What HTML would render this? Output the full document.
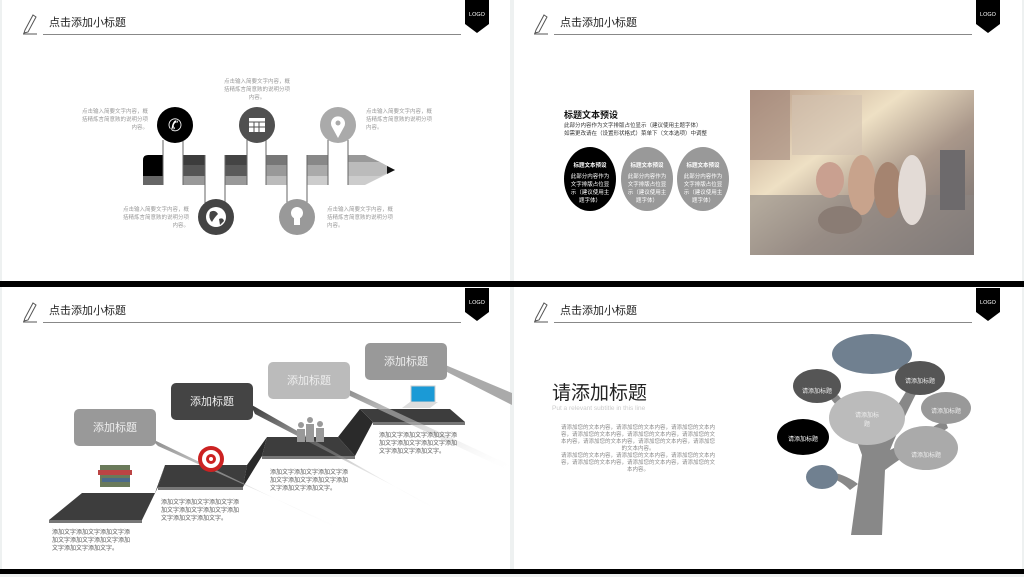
<!DOCTYPE html>
<html><head><meta charset="utf-8"><style>
html,body{margin:0;padding:0;background:#eef1f1;}
svg{display:block;font-family:"Liberation Sans","Noto Sans CJK SC",sans-serif;}
</style></head><body>
<svg width="1024" height="577" viewBox="0 0 1024 577" xmlns="http://www.w3.org/2000/svg">
<defs>
<linearGradient id="photo" x1="0" y1="0" x2="1" y2="1">
<stop offset="0" stop-color="#b79a86"/><stop offset="0.35" stop-color="#eee0c4"/><stop offset="0.6" stop-color="#a9978a"/><stop offset="1" stop-color="#6e6a6c"/></linearGradient>
<linearGradient id="beam" x1="0" y1="0" x2="1" y2="1"><stop offset="0" stop-color="#888"/><stop offset="1" stop-color="#fff" stop-opacity="0"/></linearGradient>
<linearGradient id="beam2" x1="0" y1="0" x2="1" y2="1"><stop offset="0" stop-color="#333"/><stop offset="1" stop-color="#fff" stop-opacity="0"/></linearGradient>
<g id="hdr">
<path d="M25 30 L33 15 L36 17 L28 32 L24 33 Z" fill="none" stroke="#555" stroke-width="1"/>
<line x1="23" y1="34" x2="37" y2="34" stroke="#555" stroke-width="1"/>
<text x="49" y="26" font-size="11" fill="#222">点击添加小标题</text>
<line x1="43" y1="34.5" x2="461" y2="34.5" stroke="#888" stroke-width="1"/>
<path d="M465 0 H489 V24 L477 33 L465 24 Z" fill="#000"/>
<text x="477" y="16" font-size="5.5" fill="#fff" text-anchor="middle">LOGO</text>
</g>
</defs>
<rect x="2" y="0" width="508" height="281" fill="#fff"/>
<rect x="514" y="0" width="508" height="281" fill="#fff"/>
<rect x="2" y="287" width="508" height="282" fill="#fff"/>
<rect x="514" y="287" width="508" height="282" fill="#fff"/>
<rect x="0" y="281" width="1024" height="6" fill="#000"/>
<rect x="0" y="569" width="1024" height="5" fill="#000"/>
<use href="#hdr"/>
<use href="#hdr" x="511"/>
<use href="#hdr" y="288"/>
<use href="#hdr" x="511" y="288"/>

<!-- Slide 1 pencil -->
<g>
<path d="M148 155 H163 V185 H148 Q143 185 143 180 V160 Q143 155 148 155Z" fill="#000"/>
<rect x="143" y="176" width="20" height="9" fill="#666"/>
<rect x="183" y="155" width="22" height="10" fill="#3c3c3c"/><rect x="183" y="165" width="22" height="11" fill="#555"/><rect x="183" y="176" width="22" height="9" fill="#999"/>
<rect x="225" y="155" width="22" height="10" fill="#444"/><rect x="225" y="165" width="22" height="11" fill="#5a5a5a"/><rect x="225" y="176" width="22" height="9" fill="#999"/>
<rect x="266" y="155" width="21" height="10" fill="#777"/><rect x="266" y="165" width="21" height="11" fill="#999"/><rect x="266" y="176" width="21" height="9" fill="#bbb"/>
<rect x="307" y="155" width="21" height="10" fill="#888"/><rect x="307" y="165" width="21" height="11" fill="#aaa"/><rect x="307" y="176" width="21" height="9" fill="#ccc"/>
<path d="M348 155 H365 L395 170 L365 185 H348Z" fill="#ccc"/>
<path d="M348 155 H365 L380 162 H348Z" fill="#999"/>
<path d="M348 162 H380 L395 170 L380 176 H348Z" fill="#bbb"/>
<path d="M387 166 L395 170 L387 174Z" fill="#111"/>
<g stroke="#666" stroke-width="1">
<line x1="163" y1="140" x2="163" y2="185"/><line x1="183" y1="140" x2="183" y2="185"/>
<line x1="247" y1="140" x2="247" y2="185"/><line x1="266" y1="140" x2="266" y2="185"/>
<line x1="328" y1="140" x2="328" y2="185"/><line x1="348" y1="140" x2="348" y2="185"/>
<line x1="205" y1="155" x2="205" y2="203"/><line x1="225" y1="155" x2="225" y2="203"/>
<line x1="287" y1="155" x2="287" y2="203"/><line x1="307" y1="155" x2="307" y2="203"/>
</g>
<circle cx="175" cy="125" r="18" fill="#000"/>
<text x="175" y="131" font-size="17" fill="#fff" text-anchor="middle">✆</text>
<circle cx="257" cy="125" r="18" fill="#505050"/>
<rect x="249" y="118" width="16" height="14" fill="#fff"/><g stroke="#505050" stroke-width="1"><line x1="249" y1="122" x2="265" y2="122"/><line x1="254" y1="122" x2="254" y2="132"/><line x1="259" y1="122" x2="259" y2="132"/><line x1="249" y1="127" x2="265" y2="127"/></g>
<circle cx="338" cy="125" r="18" fill="#aaa"/>
<path d="M338 138 L332 127 A7 7 0 1 1 344 127Z" fill="#fff"/><circle cx="338" cy="123" r="2.5" fill="#aaa"/>
<circle cx="216" cy="217" r="18" fill="#444"/>
<circle cx="216" cy="217" r="10" fill="#fff"/><path d="M210 212 Q215 209 218 214 Q214 218 212 222 Q208 218 210 212Z M219 219 Q223 217 224 221 L220 225Z" fill="#444"/>
<circle cx="297" cy="217" r="18" fill="#999"/>
<circle cx="297" cy="213" r="6" fill="#fff"/><rect x="294" y="218" width="6" height="7" fill="#fff"/>
</g>
<g font-size="5.5" fill="#999">
<text x="148" y="113" text-anchor="end">点击输入简要文字内容，概</text><text x="148" y="121" text-anchor="end">括精炼言简意赅的说明分项</text><text x="148" y="129" text-anchor="end">内容。</text>
<text x="257" y="83" text-anchor="middle">点击输入简要文字内容，概</text><text x="257" y="91" text-anchor="middle">括精炼言简意赅的说明分项</text><text x="257" y="99" text-anchor="middle">内容。</text>
<text x="366" y="113">点击输入简要文字内容，概</text><text x="366" y="121">括精炼言简意赅的说明分项</text><text x="366" y="129">内容。</text>
<text x="189" y="211" text-anchor="end">点击输入简要文字内容，概</text><text x="189" y="219" text-anchor="end">括精炼言简意赅的说明分项</text><text x="189" y="227" text-anchor="end">内容。</text>
<text x="327" y="211">点击输入简要文字内容，概</text><text x="327" y="219">括精炼言简意赅的说明分项</text><text x="327" y="227">内容。</text>
</g>

<!-- Slide 2 -->
<text x="564" y="118" font-size="9" font-weight="bold" fill="#111">标题文本预设</text>
<text x="564" y="127" font-size="5.5" fill="#333">此部分内容作为文字排版占位显示（建议使用主题字体）</text>
<text x="564" y="135" font-size="5.5" fill="#333">如需更改请在（设置形状格式）菜单下（文本选项）中调整</text>
<ellipse cx="590" cy="179" rx="26" ry="32" fill="#000"/>
<ellipse cx="647" cy="179" rx="26" ry="32" fill="#999"/>
<ellipse cx="703" cy="179" rx="26" ry="32" fill="#999"/>
<g font-size="5.5" fill="#fff" text-anchor="middle">
<text x="590" y="167" font-weight="bold">标题文本预设</text><text x="590" y="178">此部分内容作为</text><text x="590" y="186">文字排版占位显</text><text x="590" y="194">示（建议使用主</text><text x="590" y="202">题字体）</text>
<text x="647" y="167" font-weight="bold">标题文本预设</text><text x="647" y="178">此部分内容作为</text><text x="647" y="186">文字排版占位显</text><text x="647" y="194">示（建议使用主</text><text x="647" y="202">题字体）</text>
<text x="703" y="167" font-weight="bold">标题文本预设</text><text x="703" y="178">此部分内容作为</text><text x="703" y="186">文字排版占位显</text><text x="703" y="194">示（建议使用主</text><text x="703" y="202">题字体）</text>
</g>
<rect x="750" y="90" width="224" height="165" fill="url(#photo)"/>
<rect x="750" y="90" width="40" height="70" fill="#a0867a" opacity="0.6"/>
<rect x="792" y="95" width="70" height="60" fill="#d2c2b0" opacity="0.6"/>
<rect x="750" y="195" width="224" height="60" fill="#8c8582" opacity="0.6"/>
<rect x="940" y="150" width="25" height="60" fill="#6d6a6c"/>
<ellipse cx="830" cy="180" rx="14" ry="18" fill="#c9a090"/>
<ellipse cx="862" cy="185" rx="14" ry="30" fill="#c8a38c"/>
<ellipse cx="888" cy="190" rx="14" ry="28" fill="#a58470"/>
<ellipse cx="912" cy="190" rx="14" ry="35" fill="#e3dbd6"/>
<ellipse cx="840" cy="220" rx="22" ry="14" fill="#8a7c74"/>

<!-- Slide 3 platforms -->
<polygon points="49,520 82,493 155,493 142,520" fill="#3d3d3d"/>
<polygon points="49,520 142,520 142,523 49,523" fill="#777"/>
<polygon points="142,520 155,493 165,465 158,487" fill="#2a2a2a"/>
<polygon points="158,487 165,465 247,465 243,487" fill="#3d3d3d"/>
<polygon points="158,487 243,487 243,490 158,490" fill="#777"/>
<polygon points="243,487 247,465 267,437 262,456" fill="#2a2a2a"/>
<polygon points="262,456 267,437 338,437 355,456" fill="#3d3d3d"/>
<polygon points="262,456 355,456 355,459 262,459" fill="#777"/>
<polygon points="338,437 355,456 373,422 360,409" fill="#2a2a2a"/>
<polygon points="360,409 450,409 465,422 373,422" fill="#3d3d3d"/>
<polygon points="373,422 465,422 465,425 373,425" fill="#777"/>
<!-- beams -->
<polygon points="150,438 158,446 345,530 340,530" fill="url(#beam)"/>
<polygon points="250,404 255,414 440,510 436,510" fill="url(#beam2)"/>
<polygon points="345,388 350,396 512,472 512,466" fill="url(#beam)"/>
<polygon points="443,364 447,372 512,405 512,393" fill="#aaa"/>
<rect x="74" y="409" width="82" height="37" rx="5" fill="#999"/>
<rect x="171" y="383" width="82" height="37" rx="5" fill="#444"/>
<rect x="268" y="362" width="82" height="37" rx="5" fill="#bbb"/>
<rect x="365" y="343" width="82" height="37" rx="5" fill="#999"/>
<g font-size="11" fill="#eee" text-anchor="middle">
<text x="115" y="431">添加标题</text><text x="212" y="405">添加标题</text><text x="309" y="384">添加标题</text><text x="406" y="365">添加标题</text></g>
<rect x="100" y="465" width="30" height="22" fill="#6a7a5a"/><rect x="98" y="470" width="34" height="5" fill="#b44"/><rect x="102" y="478" width="28" height="4" fill="#4a6a8a"/>
<circle cx="211" cy="459" r="13" fill="#c22"/><circle cx="211" cy="459" r="9" fill="#fff"/><circle cx="211" cy="459" r="5" fill="#c22"/><circle cx="211" cy="459" r="2" fill="#fff"/>
<g fill="#999"><circle cx="310" cy="420" r="3"/><rect x="306" y="424" width="8" height="18"/><circle cx="301" cy="425" r="3"/><rect x="297" y="429" width="8" height="13"/><circle cx="320" cy="424" r="3"/><rect x="316" y="428" width="8" height="14"/></g>
<rect x="411" y="386" width="24" height="16" fill="#1b9ad6" stroke="#ccc"/><polygon points="402,408 430,408 438,402 410,402" fill="#ddd"/>
<g font-size="6" fill="#555">
<text x="52" y="534">添加文字添加文字添加文字添</text><text x="52" y="542">加文字添加文字添加文字添加</text><text x="52" y="550">文字添加文字添加文字。</text>
<text x="161" y="504">添加文字添加文字添加文字添</text><text x="161" y="512">加文字添加文字添加文字添加</text><text x="161" y="520">文字添加文字添加文字。</text>
<text x="270" y="474">添加文字添加文字添加文字添</text><text x="270" y="482">加文字添加文字添加文字添加</text><text x="270" y="490">文字添加文字添加文字。</text>
<text x="379" y="437">添加文字添加文字添加文字添</text><text x="379" y="445">加文字添加文字添加文字添加</text><text x="379" y="453">文字添加文字添加文字。</text>
</g>

<!-- Slide 4 -->
<text x="552" y="399" font-size="19" fill="#222">请添加标题</text>
<text x="552" y="410" font-size="6.5" fill="#ccc">Put a relevant subtitle in this line</text>
<g font-size="5.5" fill="#888" text-anchor="middle">
<text x="638" y="429">请添加您的文本内容，请添加您的文本内容，请添加您的文本内</text>
<text x="638" y="436">容，请添加您的文本内容，请添加您的文本内容，请添加您的文</text>
<text x="638" y="443">本内容，请添加您的文本内容，请添加您的文本内容，请添加您</text>
<text x="638" y="450">的文本内容。</text>
<text x="638" y="457">请添加您的文本内容，请添加您的文本内容，请添加您的文本内</text>
<text x="638" y="464">容，请添加您的文本内容，请添加您的文本内容，请添加您的文</text>
<text x="638" y="471">本内容。</text>
</g>
<path d="M851 535 L862 455 Q850 420 830 398 L838 395 Q860 420 868 440 L872 395 L880 395 L876 440 Q895 410 910 385 L918 390 Q900 425 890 450 Q910 440 945 420 L948 428 Q905 455 885 470 L882 535Z" fill="#888"/>
<path d="M850 490 Q840 480 830 478 L832 472 Q848 476 858 484Z" fill="#888"/>
<g>
<ellipse cx="872" cy="354" rx="40" ry="20" fill="#708090"/>
<ellipse cx="817" cy="386" rx="24" ry="17" fill="#555"/>
<ellipse cx="920" cy="378" rx="25" ry="17" fill="#555"/>
<ellipse cx="946" cy="408" rx="25" ry="16" fill="#999"/>
<ellipse cx="867" cy="418" rx="38" ry="27" fill="#bbb"/>
<ellipse cx="803" cy="437" rx="26" ry="18" fill="#000"/>
<ellipse cx="926" cy="448" rx="32" ry="22" fill="#aaa"/>
<ellipse cx="822" cy="477" rx="16" ry="12" fill="#708090"/>
</g>
<g font-size="6" fill="#eee" text-anchor="middle">
<text x="817" y="393">请添加标题</text><text x="920" y="383">请添加标题</text><text x="946" y="413">请添加标题</text>
<text x="867" y="417">请添加标</text><text x="867" y="426">题</text>
<text x="803" y="441" fill="#fff">请添加标题</text><text x="926" y="457">请添加标题</text>
</g>
</svg>
</body></html>
